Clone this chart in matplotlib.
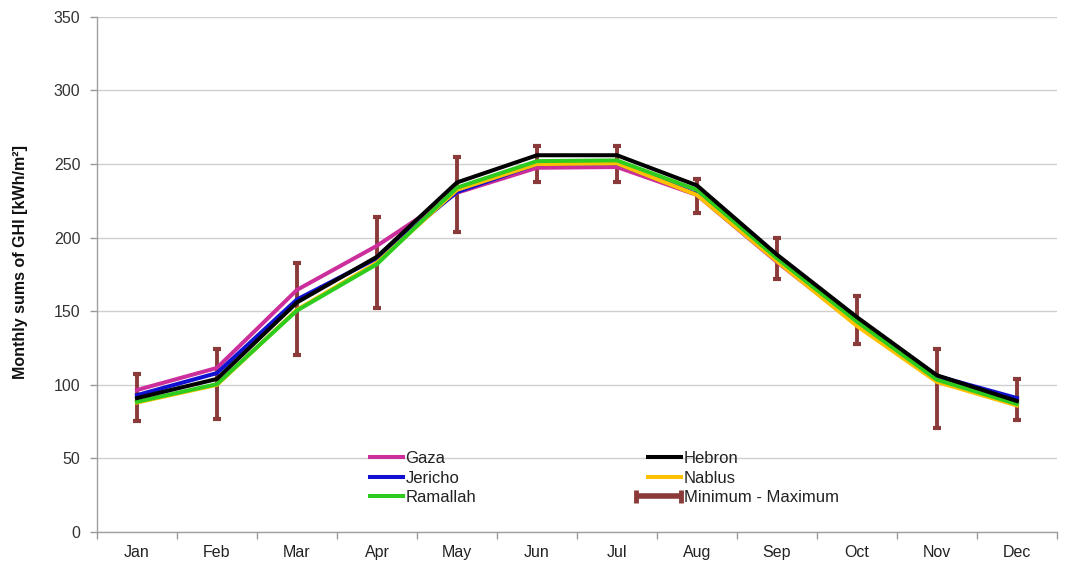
import matplotlib
matplotlib.use("Agg")
import matplotlib.pyplot as plt
from matplotlib.lines import Line2D
from matplotlib.legend_handler import HandlerBase
import numpy as np

plt.rcParams['font.family'] = ['Liberation Sans', 'DejaVu Sans']

months = ["Jan", "Feb", "Mar", "Apr", "May", "Jun",
          "Jul", "Aug", "Sep", "Oct", "Nov", "Dec"]

gaza     = [96.5, 111.5, 164.5, 194.5, 230.5, 247.5, 248.0, 229.0, 183.5, 141.0, 104.0, 90.0]
hebron   = [91.0, 104.0, 156.0, 187.0, 237.5, 256.0, 256.0, 235.5, 188.5, 146.0, 106.5, 89.0]
jericho  = [93.0, 108.0, 158.0, 186.0, 231.0, 250.0, 250.5, 229.5, 184.5, 141.5, 106.0, 91.0]
nablus   = [88.0, 100.0, 151.0, 183.0, 232.5, 250.0, 250.5, 229.0, 184.0, 140.0, 102.0, 86.0]
ramallah = [88.5, 100.5, 150.5, 182.0, 234.0, 252.0, 252.5, 232.5, 186.0, 143.0, 103.5, 87.0]

ghi_min = [75.5, 77.0, 120.0, 152.0, 204.0, 237.5, 237.5, 217.0, 172.0, 128.0, 70.5, 76.0]
ghi_max = [107.5, 124.5, 183.0, 214.0, 255.0, 262.5, 262.5, 240.0, 200.0, 160.5, 124.5, 104.0]

series = [
    ("Gaza", gaza, "#cc2e9b"),
    ("Jericho", jericho, "#1010d0"),
    ("Ramallah", ramallah, "#2ecc1e"),
    ("Hebron", hebron, "#000000"),
    ("Nablus", nablus, "#ffc000"),
]
draw_order = ["Gaza", "Jericho", "Nablus", "Ramallah", "Hebron"]
err_color = "#8b3a3a"


class RangeBarHandler(HandlerBase):
    """Horizontal bar with end caps, used as the legend key of the min/max range."""
    def create_artists(self, legend, orig_handle, xdescent, ydescent,
                       width, height, fontsize, trans):
        y = height / 2 - ydescent
        x0 = -xdescent - 0.35 * width
        x1 = -xdescent + width
        ch = 0.55 * height
        bar = Line2D([x0, x1], [y, y], color=err_color, lw=4.0,
                     solid_capstyle='butt', transform=trans)
        capl = Line2D([x0, x0], [y - ch, y + ch], color=err_color, lw=3.5,
                      solid_capstyle='butt', transform=trans)
        capr = Line2D([x1, x1], [y - ch, y + ch], color=err_color, lw=3.5,
                      solid_capstyle='butt', transform=trans)
        return [bar, capl, capr]


fig = plt.figure(figsize=(10.69, 5.63), dpi=100)
ax = fig.add_axes([0.0907, 0.055, 0.898, 0.915])

x = np.arange(len(months))
lo = np.array(ghi_min)
hi = np.array(ghi_max)
mid = (lo + hi) / 2

handles = {}
for name, vals, col in series:
    z = 3 + draw_order.index(name)
    (h,) = ax.plot(x, vals, color=col, lw=2.9, zorder=z, solid_joinstyle='miter')
    handles[name] = h

ax.errorbar(x, mid, yerr=[mid - lo, hi - mid], fmt='none', ecolor=err_color,
            elinewidth=2.8, capsize=2.8, capthick=3, zorder=2.5)
range_key = object()

ax.set_xlim(-0.5, 11.5)
ax.set_ylim(0, 350)
ax.set_yticks(np.arange(0, 351, 50))
ax.set_xticks(x)
ax.set_xticklabels(months)
ax.set_xticks(np.arange(-0.5, 12, 1), minor=True)
ax.tick_params(axis='x', which='major', length=0, pad=9, labelsize=11.5, labelcolor='#222222')
ax.tick_params(axis='x', which='minor', length=5, color='#999999', width=1)
ax.tick_params(axis='y', which='major', length=5, color='#999999', width=1, pad=7,
               labelsize=11.5, labelcolor='#333333')

ax.grid(axis='y', color='#cfcfcf', lw=1)
ax.set_axisbelow(True)
for s in ['top', 'right']:
    ax.spines[s].set_visible(False)
for s in ['left', 'bottom']:
    ax.spines[s].set_color('#a0a0a0')
    ax.spines[s].set_linewidth(1)

ax.set_ylabel("Monthly sums of GHI [kWh/m²]", fontsize=11.5, fontweight='bold',
              color='#111111')
ax.yaxis.set_label_coords(-0.072, 0.524)

leg_kw = dict(frameon=False, loc='upper left', fontsize=12, handlelength=2.0,
              handletextpad=0.15, labelspacing=0.27, borderaxespad=0, borderpad=0)

left_names = ["Gaza", "Jericho", "Ramallah"]
leg1 = ax.legend([handles[n] for n in left_names], left_names,
                 bbox_to_anchor=(0.284, 0.157), **leg_kw)
ax.add_artist(leg1)

right_names = ["Hebron", "Nablus", "Minimum - Maximum"]
leg2 = ax.legend([handles["Hebron"], handles["Nablus"], range_key], right_names,
                 bbox_to_anchor=(0.574, 0.157),
                 handler_map={range_key: RangeBarHandler()}, **leg_kw)
for lg in (leg1, leg2):
    for t in lg.get_texts():
        t.set_color('#222222')

fig.savefig("out.png", dpi=100)
